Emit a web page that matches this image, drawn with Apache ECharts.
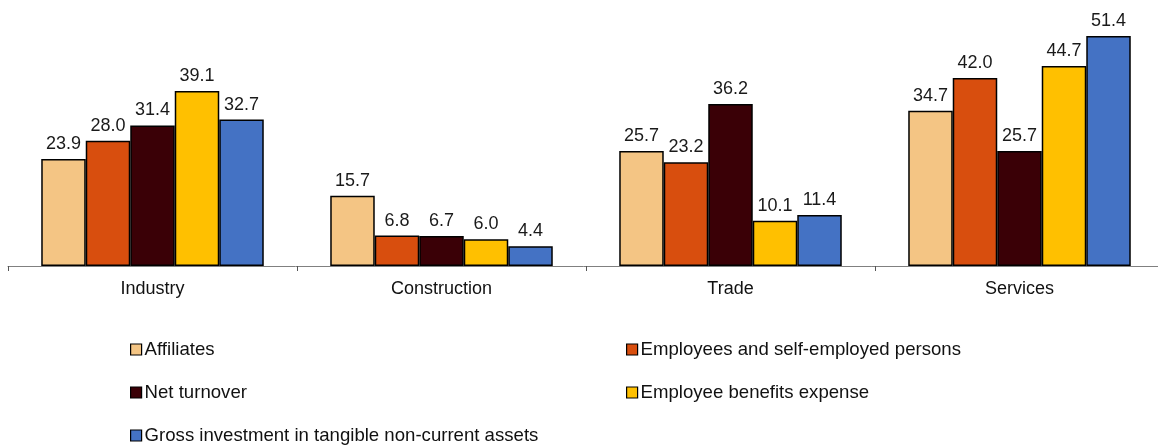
<!DOCTYPE html>
<html>
<head>
<meta charset="utf-8">
<style>
  html, body { margin: 0; padding: 0; background: #fff; }
  #chart { width: 1158px; height: 448px; }
</style>
<script src="https://cdn.jsdelivr.net/npm/echarts@6/dist/echarts.min.js"></script>
</head>
<body>
<div id="chart"></div>
<script>
/* ---- data ---- */
const categories = ["Industry", "Construction", "Trade", "Services"];
const seriesNames = [
  "Affiliates",
  "Employees and self-employed persons",
  "Net turnover",
  "Employee benefits expense",
  "Gross investment in tangible non-current assets"
];
const affiliates = [23.9, 15.7, 25.7, 34.7];
const employees  = [28.0, 6.8, 23.2, 42.0];
const turnover   = [31.4, 6.7, 36.2, 25.7];
const benefits   = [39.1, 6.0, 10.1, 44.7];
const investment = [32.7, 4.4, 11.4, 51.4];
const colors = ["#F4C584", "#D84E0E", "#3A0006", "#FFC000", "#4472C4"];

/* ---- chart ---- */
const chart = echarts.init(document.getElementById("chart"));
const values = [affiliates, employees, turnover, benefits, investment];
const font = "Liberation Sans, Arial, sans-serif";

const series = values.map((v, i) => ({
  name: seriesNames[i],
  type: "bar",
  data: v,
  barGap: "0%",
  barCategoryGap: "23%",
  itemStyle: { color: colors[i], borderColor: "#000", borderWidth: 1.5 },
  label: {
    show: true,
    position: "top",
    distance: 6,
    formatter: p => p.value.toFixed(1),
    color: "#1a1a1a",
    fontFamily: font,
    fontSize: 18
  },
  animation: false
}));

// legend: two columns, one legend per item
const legendPos = [[130, 340], [626, 340], [130, 383], [626, 383], [130, 426]];
const legends = seriesNames.map((n, i) => ({
  data: [n],
  left: legendPos[i][0],
  top: legendPos[i][1],
  padding: 0,
  itemWidth: 11,
  itemHeight: 11,
  icon: "rect",
  itemStyle: { borderColor: "#000", borderWidth: 1.2 },
  textStyle: { fontFamily: font, fontSize: 18.6, color: "#111", padding: [0, 0, 0, -2] },
  selectedMode: false
}));

chart.setOption({
  animation: false,
  grid: { left: 8, width: 1156, top: 19.8, bottom: 182, outerBoundsMode: "none", containLabel: false },
  legend: legends,
  xAxis: {
    type: "category",
    data: categories,
    axisLine: { lineStyle: { color: "#808080", width: 1 } },
    axisTick: { show: true, length: 5, lineStyle: { color: "#555" } },
    axisLabel: { fontFamily: font, fontSize: 18, color: "#111", margin: 14 }
  },
  yAxis: {
    type: "value",
    min: 0,
    max: 55,
    show: false,
    splitLine: { show: false }
  },
  series: series
});
</script>
</body>
</html>
